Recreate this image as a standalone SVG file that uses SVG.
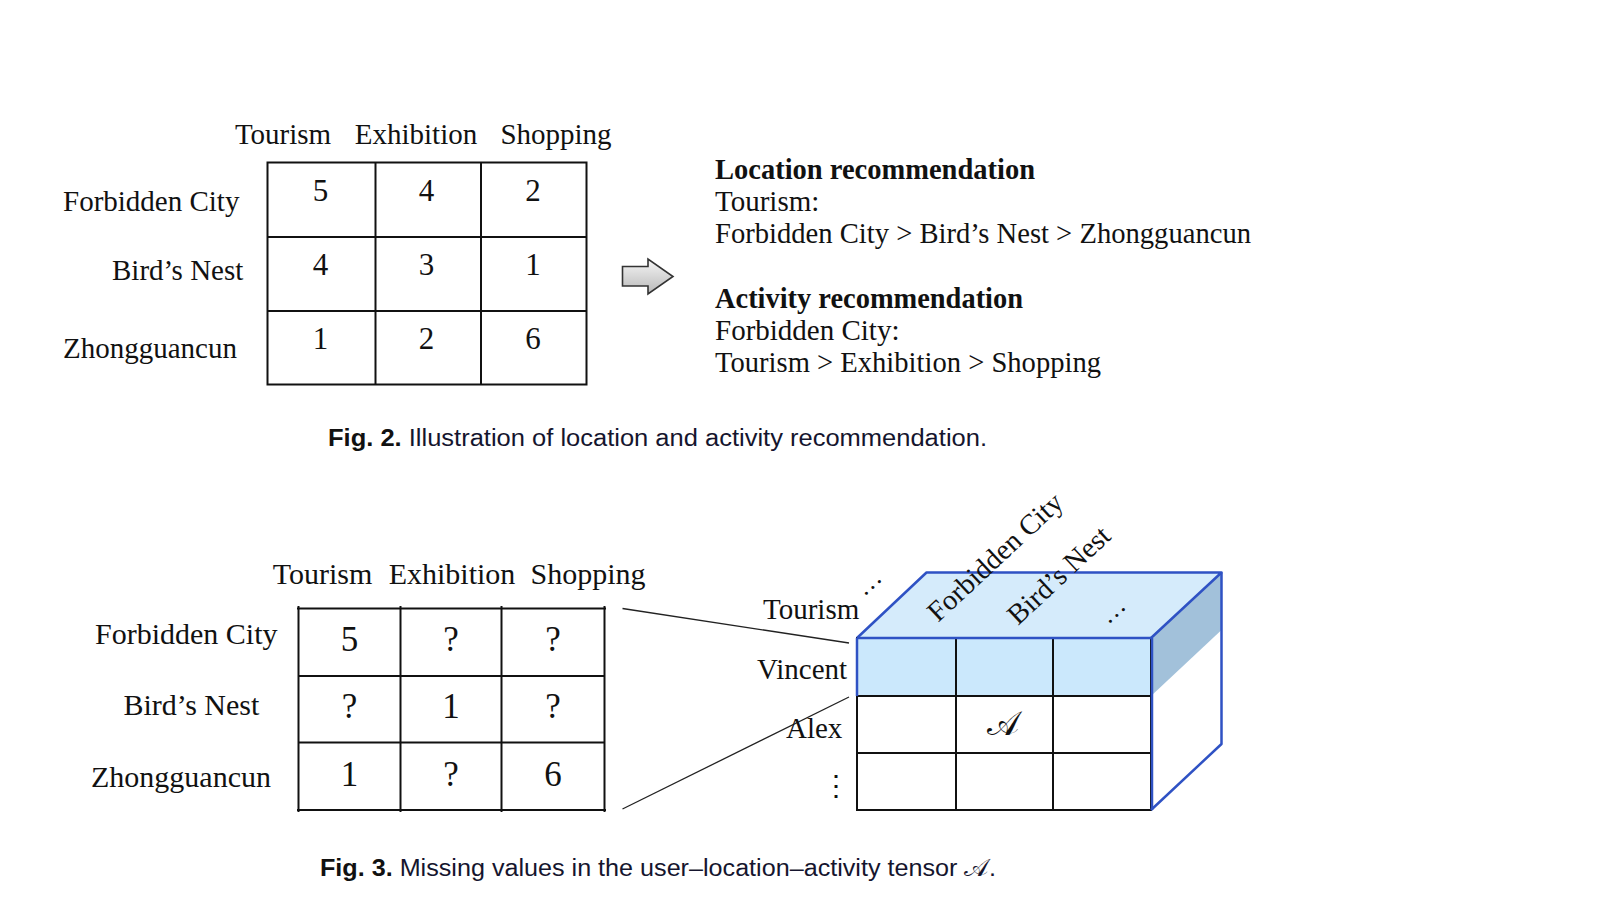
<svg xmlns="http://www.w3.org/2000/svg" width="1600" height="899" viewBox="0 0 1600 899">
<style>
  .t { font-family: "Liberation Serif", "Times New Roman", serif; fill: #111; }
  .s28 { font-size: 29px; }
  .s30 { font-size: 30px; }
  .rot { font-size: 28.5px; }
  .num1 { font-size: 31px; text-anchor: middle; }
  .num2 { font-size: 35px; text-anchor: middle; }
  .mid { text-anchor: middle; }
  .b { font-weight: bold; }
  .cap { font-family: "Liberation Sans", Arial, sans-serif; font-size: 23.5px; fill: #15152e; }
  .grid { fill: none; stroke: #111; stroke-width: 2; }
  .blue { fill: none; stroke: #2f52c4; stroke-width: 2.5; stroke-linejoin: round; }
  .conn { stroke: #222; stroke-width: 1.3; fill: none; }
</style>
<defs>
  <linearGradient id="arrowGrad" x1="0" y1="0" x2="0" y2="1">
    <stop offset="0" stop-color="#f6f6f6"/>
    <stop offset="1" stop-color="#b8b8b8"/>
  </linearGradient>
</defs>
<rect width="1600" height="899" fill="#fff"/>

<!-- Fig. 2 -->
<g id="fig2-matrix">
  <text class="t s28 mid" x="283" y="144">Tourism</text>
  <text class="t s28 mid" x="416" y="144">Exhibition</text>
  <text class="t s28 mid" x="556" y="144">Shopping</text>
  <text class="t s28" x="63" y="211">Forbidden City</text>
  <text class="t s28" x="112" y="280">Bird’s Nest</text>
  <text class="t s28" x="63" y="358">Zhongguancun</text>
  <rect class="grid" x="267.5" y="162.5" width="319" height="222"/>
  <line class="grid" x1="375.5" y1="162.5" x2="375.5" y2="384.5"/>
  <line class="grid" x1="481" y1="162.5" x2="481" y2="384.5"/>
  <line class="grid" x1="267.5" y1="237" x2="586.5" y2="237"/>
  <line class="grid" x1="267.5" y1="311" x2="586.5" y2="311"/>
  <text class="t num1" x="320.5" y="201">5</text>
  <text class="t num1" x="426.5" y="201">4</text>
  <text class="t num1" x="533" y="201">2</text>
  <text class="t num1" x="320.5" y="274.5">4</text>
  <text class="t num1" x="426.5" y="274.5">3</text>
  <text class="t num1" x="533" y="274.5">1</text>
  <text class="t num1" x="320.5" y="349">1</text>
  <text class="t num1" x="426.5" y="349">2</text>
  <text class="t num1" x="533" y="349">6</text>
</g>

<g id="fig2-arrow">
  <path d="M622.5,266.5 H648 V259 L673,276.5 L648,294 V286 H622.5 Z" fill="url(#arrowGrad)" stroke="#333" stroke-width="1.6" stroke-linejoin="miter"/>
</g>

<g id="fig2-recommendation">
  <text class="t s28 b" x="715" y="178.5" textLength="320" lengthAdjust="spacingAndGlyphs">Location recommendation</text>
  <text class="t s28" x="715" y="210.5">Tourism:</text>
  <text class="t s28" x="715" y="242.5" textLength="536" lengthAdjust="spacingAndGlyphs">Forbidden City &gt; Bird’s Nest &gt; Zhongguancun</text>
  <text class="t s28 b" x="715" y="308" textLength="308" lengthAdjust="spacingAndGlyphs">Activity recommendation</text>
  <text class="t s28" x="715" y="340">Forbidden City:</text>
  <text class="t s28" x="715" y="371.5" textLength="386" lengthAdjust="spacingAndGlyphs">Tourism &gt; Exhibition &gt; Shopping</text>
</g>

<g id="fig2-caption">
  <text class="cap" x="328" y="445.5" textLength="659" lengthAdjust="spacingAndGlyphs"><tspan font-weight="bold" fill="#111">Fig. 2.</tspan> Illustration of location and activity recommendation.</text>
</g>

<!-- Fig. 3 -->
<g id="fig3-matrix">
  <text class="t s30 mid" x="322.5" y="583.5">Tourism</text>
  <text class="t s30 mid" x="452" y="583.5">Exhibition</text>
  <text class="t s30 mid" x="588" y="583.5">Shopping</text>
  <text class="t s30" x="95" y="644">Forbidden City</text>
  <text class="t s30" x="123.5" y="715">Bird’s Nest</text>
  <text class="t s30" x="91" y="786.5">Zhongguancun</text>
  <line class="grid" x1="297" y1="608.5" x2="606" y2="608.5"/>
  <line class="grid" x1="297" y1="810" x2="606" y2="810"/>
  <line class="grid" x1="298.5" y1="606" x2="298.5" y2="812"/>
  <line class="grid" x1="400.5" y1="606" x2="400.5" y2="812"/>
  <line class="grid" x1="501.5" y1="606" x2="501.5" y2="812"/>
  <line class="grid" x1="604.5" y1="606" x2="604.5" y2="812"/>
  <line class="grid" x1="298.5" y1="676" x2="604.5" y2="676"/>
  <line class="grid" x1="298.5" y1="742.5" x2="604.5" y2="742.5"/>
  <text class="t num2" x="349.5" y="651">5</text>
  <text class="t num2" x="451" y="651">?</text>
  <text class="t num2" x="553" y="651">?</text>
  <text class="t num2" x="349.5" y="718">?</text>
  <text class="t num2" x="451" y="718">1</text>
  <text class="t num2" x="553" y="718">?</text>
  <text class="t num2" x="349.5" y="786">1</text>
  <text class="t num2" x="451" y="786">?</text>
  <text class="t num2" x="553" y="786">6</text>
</g>

<g id="connectors">
  <line class="conn" x1="622.5" y1="608.5" x2="849" y2="643"/>
  <line class="conn" x1="622.5" y1="809" x2="849" y2="697"/>
</g>

<g id="fig3-tensor">
  <!-- top face -->
  <polygon points="857,638 926.5,572.5 1221.5,572.5 1151,638" fill="#d5ebfb"/>
  <!-- right face -->
  <polygon points="1151,638 1221.5,572.5 1221.5,744 1151,810" fill="#fff"/>
  <polygon points="1151,638 1221.5,572.5 1221.5,630 1151,696" fill="#a2c1da"/>
  <!-- front top row fill -->
  <rect x="857" y="638" width="294" height="58" fill="#cbe8fc"/>
  <!-- front grid -->
  <rect class="grid" x="857" y="638" width="294" height="172"/>
  <line class="grid" x1="956" y1="638" x2="956" y2="810"/>
  <line class="grid" x1="1053" y1="638" x2="1053" y2="810"/>
  <line class="grid" x1="857" y1="696" x2="1151" y2="696"/>
  <line class="grid" x1="857" y1="753" x2="1151" y2="753"/>
  <!-- blue outlines -->
  <polyline class="blue" points="857,638 926.5,572.5 1221.5,572.5 1151,638"/>
  <polyline class="blue" points="1221.5,572.5 1221.5,744 1151,810"/>
  <line class="blue" x1="857" y1="638" x2="1151" y2="638"/>
  <line class="blue" x1="1152" y1="638" x2="1152" y2="810"/>
  <line class="blue" x1="857" y1="638" x2="857" y2="696" stroke-width="1.5"/>
  <!-- labels -->
  <text class="t s28" x="763" y="619">Tourism</text>
  <text class="t s28" x="757" y="678.5">Vincent</text>
  <text class="t s28" x="786" y="738">Alex</text>
  <text class="t" font-size="26" transform="translate(864,597) rotate(-42)">…</text>
  <text class="t rot" transform="translate(938,623) rotate(-43)">Forbidden City</text>
  <text class="t rot" transform="translate(1018,626) rotate(-43)">Bird’s Nest</text>
  <text class="t" font-size="26" transform="translate(1108,625) rotate(-42)">…</text>
  <text class="t" font-size="28" x="836" y="795" text-anchor="middle" font-family="DejaVu Serif, serif">⋮</text>
  <text class="t" font-size="34" x="1003" y="735" text-anchor="middle" font-family="DejaVu Serif, 'DejaVu Sans', serif">𝒜</text>
</g>

<g id="fig3-caption">
  <text class="cap" x="320" y="876" textLength="676" lengthAdjust="spacingAndGlyphs"><tspan font-weight="bold" fill="#111">Fig. 3.</tspan> Missing values in the user–location–activity tensor 𝒜.</text>
</g>
</svg>
